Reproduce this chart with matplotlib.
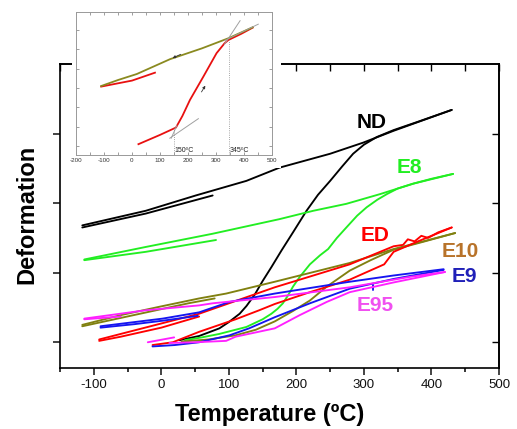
import numpy as np
import matplotlib
matplotlib.use("Agg")
import matplotlib.pyplot as plt
from matplotlib.patches import Rectangle

plt.rcParams['font.family'] = ['Liberation Sans', 'DejaVu Sans']
plt.rcParams['axes.unicode_minus'] = False

# ---------------- main data (x = temperature in C, y = deformation, arbitrary units)
nd_heat_x = [27, 56, 86, 100, 116, 126, 138, 150, 163, 178, 195, 215, 232, 250, 268, 284, 300, 319, 344, 380, 430]
nd_heat_y = [1.03, 1.09, 1.20, 1.29, 1.41, 1.52, 1.68, 1.88, 2.08, 2.32, 2.58, 2.89, 3.12, 3.32, 3.53, 3.71, 3.84, 3.95, 4.05, 4.17, 4.34]
nd_cool_x = [430, 344, 299, 250, 175, 126, 51, -23, -117]
nd_cool_y = [4.34, 4.04, 3.87, 3.71, 3.51, 3.32, 3.11, 2.89, 2.68]
nd_ret_x = [-117, -23, 76]
nd_ret_y = [2.65, 2.85, 3.11]

e8_heat_x = [35, 60, 86, 126, 150, 163, 172, 180, 188, 195, 205, 220, 235, 247, 260, 274, 290, 304, 320, 334, 350, 373, 400, 432]
e8_heat_y = [1.03, 1.07, 1.12, 1.22, 1.33, 1.41, 1.48, 1.56, 1.68, 1.80, 1.94, 2.12, 2.25, 2.34, 2.50, 2.65, 2.82, 2.94, 3.05, 3.13, 3.21, 3.28, 3.35, 3.42]
e8_cool_x = [432, 373, 324, 274, 225, 175, 76, -23, -114]
e8_cool_y = [3.42, 3.28, 3.13, 2.99, 2.89, 2.77, 2.56, 2.37, 2.19]
e8_ret_x = [-114, -23, 81]
e8_ret_y = [2.18, 2.30, 2.47]

e10_heat_x = [30, 70, 110, 140, 168, 195, 220, 245, 279, 310, 344, 390, 435]
e10_heat_y = [1.01, 1.04, 1.10, 1.18, 1.30, 1.45, 1.60, 1.80, 2.03, 2.18, 2.33, 2.45, 2.57]
e10_cool_x = [435, 344, 279, 168, 96, 56, -3, -60, -117]
e10_cool_y = [2.57, 2.34, 2.14, 1.87, 1.70, 1.63, 1.51, 1.39, 1.25]
e10_ret_x = [-117, -60, -3, 40, 79]
e10_ret_y = [1.23, 1.35, 1.47, 1.56, 1.63]

ed_heat_x = [-13, 17, 56, 110, 145, 168, 220, 279, 330, 344, 380, 430]
ed_heat_y = [0.96, 1.00, 1.15, 1.33, 1.46, 1.55, 1.72, 1.90, 2.12, 2.30, 2.45, 2.65]
ed_cool_x = [430, 410, 395, 385, 375, 365, 358, 344, 279, 168, 56, -20, -92]
ed_cool_y = [2.65, 2.58, 2.50, 2.53, 2.45, 2.48, 2.40, 2.38, 2.12, 1.79, 1.41, 1.22, 1.04]
ed_ret_x = [-92, -60, 0, 56]
ed_ret_y = [1.02, 1.08, 1.21, 1.37]

e9_heat_x = [-13, 20, 56, 101, 130, 168, 220, 279, 344, 418]
e9_heat_y = [0.94, 0.96, 1.00, 1.10, 1.20, 1.36, 1.56, 1.77, 1.91, 2.04]
e9_cool_x = [418, 344, 279, 168, 101, 56, 2, -90]
e9_cool_y = [2.05, 1.96, 1.87, 1.70, 1.58, 1.43, 1.34, 1.23]
e9_ret_x = [-90, -40, 2, 54]
e9_ret_y = [1.21, 1.26, 1.31, 1.38]
e9_mark_x = [314, 314]
e9_mark_y = [1.75, 1.83]

e95_heat_x = [12, 50, 96, 110, 168, 205, 245, 279, 344, 420]
e95_heat_y = [0.99, 1.00, 1.02, 1.08, 1.20, 1.39, 1.58, 1.72, 1.86, 2.01]
e95_cool_x = [420, 368, 279, 168, 76, 56, -23, -114]
e95_cool_y = [2.01, 1.94, 1.79, 1.65, 1.56, 1.53, 1.46, 1.34]
e95_ret_x = [-114, -60]
e95_ret_y = [1.33, 1.37]
e95_piece_x = [-20, 19]
e95_piece_y = [1.00, 1.07]

labels = ['ND', 'E8', 'ED', 'E10', 'E9', 'E95']
label_x = [311, 368, 316, 443, 448, 316]
label_y = [4.16, 3.51, 2.53, 2.30, 1.94, 1.53]
label_colors = ['#000000', '#22EE22', '#FF0000', '#B8732A', '#2020B8', '#F050F0']

x_ticks = [-100, 0, 100, 200, 300, 400, 500]
x_tick_labels = ['-100', '0', '100', '200', '300', '400', '500']

# ---------------- inset data
in_olive_x = [-110, -50, 17, 136, 250, 344, 431]
in_olive_y = [3.10, 3.41, 3.72, 4.49, 5.05, 5.57, 6.14]
in_red_heat_x = [23, 100, 157, 180, 207, 255, 302, 330, 344, 390, 431]
in_red_heat_y = [0.09, 0.57, 0.95, 1.55, 2.38, 3.59, 4.80, 5.30, 5.48, 5.80, 6.12]
in_red_low_x = [-110, -50, 0, 82]
in_red_low_y = [3.07, 3.24, 3.38, 3.79]
in_tan1_x = [135, 237]
in_tan1_y = [0.40, 1.41]
in_tan2_x = [140, 160]
in_tan2_y = [0.40, 1.05]
in_tan3_x = [330, 386]
in_tan3_y = [5.25, 6.48]
in_tan4_x = [330, 451]
in_tan4_y = [5.45, 6.30]
in_x_ticks = [-200, -100, 0, 100, 200, 300, 400, 500]

W, H = 517, 429
fig = plt.figure(figsize=(W / 100, H / 100), dpi=100)
ax = fig.add_axes([60 / W, 1 - 368 / H, 439 / W, 304 / H], zorder=0)

lw = 1.35
series = [
    ('#000000', [(nd_heat_x, nd_heat_y), (nd_cool_x, nd_cool_y), (nd_ret_x, nd_ret_y)]),
    ('#22EE22', [(e8_heat_x, e8_heat_y), (e8_cool_x, e8_cool_y), (e8_ret_x, e8_ret_y)]),
    ('#808010', [(e10_heat_x, e10_heat_y), (e10_cool_x, e10_cool_y), (e10_ret_x, e10_ret_y)]),
    ('#FF0000', [(ed_heat_x, ed_heat_y), (ed_cool_x, ed_cool_y), (ed_ret_x, ed_ret_y)]),
    ('#1515F0', [(e9_heat_x, e9_heat_y), (e9_cool_x, e9_cool_y), (e9_ret_x, e9_ret_y), (e9_mark_x, e9_mark_y)]),
    ('#FF20FF', [(e95_heat_x, e95_heat_y), (e95_cool_x, e95_cool_y), (e95_ret_x, e95_ret_y), (e95_piece_x, e95_piece_y)]),
]
for color, parts in series:
    for xs, ys in parts:
        ax.plot(xs, ys, color=color, lw=lw, solid_joinstyle='round', solid_capstyle='round')

for t, x, y, c in zip(labels, label_x, label_y, label_colors):
    ax.text(x, y, t, color=c, fontsize=15, fontweight='bold', ha='center', va='center')

ax.set_xlim(-150, 500)
ax.set_ylim(0.63, 5.0)
ax.set_xticks(x_ticks)
ax.set_xticklabels(x_tick_labels)
ax.set_xticks(np.arange(-150, 501, 100), minor=True)
ax.set_yticks([1, 2, 3, 4])
ax.set_yticklabels([])
ax.tick_params(axis='both', which='major', direction='out', length=5, width=1.1,
               labelsize=9.5, colors='#111111', pad=3)
ax.tick_params(axis='x', which='minor', direction='out', length=3, width=1.1)
for s in ax.spines.values():
    s.set_linewidth(1.2)

sx = ax.secondary_xaxis('top')
sx.set_xticks(np.arange(-150, 501, 50))
sx.tick_params(direction='in', length=5, width=1.0, labeltop=False)
sx.spines['top'].set_linewidth(1.2)
sy = ax.secondary_yaxis('right')
sy.set_yticks([1, 2, 3, 4])
sy.tick_params(direction='in', length=5, width=1.0, labelright=False)
sy.spines['right'].set_linewidth(1.2)

fig.text(270 / W, 1 - 414 / H, 'Temperature (ºC)', fontsize=17, fontweight='bold',
         ha='center', va='center')
fig.text(27 / W, 1 - 214 / H, 'Deformation', fontsize=17, fontweight='bold',
         ha='center', va='center', rotation=90)

# white box behind inset
fig.patches.append(Rectangle((72 / W, 1 - 168 / H), 209 / W, 165 / H, transform=fig.transFigure,
                             facecolor='white', edgecolor='none', zorder=1))

axi = fig.add_axes([76 / W, 1 - 155 / H, 196 / W, 143 / H], zorder=3)
axi.plot(in_red_low_x, in_red_low_y, color='#E81010', lw=1.3)
axi.plot(in_red_heat_x, in_red_heat_y, color='#E81010', lw=1.3)
axi.plot(in_olive_x, in_olive_y, color='#8A8A20', lw=1.3)
for xs, ys in [(in_tan1_x, in_tan1_y), (in_tan2_x, in_tan2_y), (in_tan3_x, in_tan3_y), (in_tan4_x, in_tan4_y)]:
    axi.plot(xs, ys, color='#A0A0A0', lw=0.7)
axi.plot([150, 150], [-0.47, 0.95], color='#888888', lw=0.6, ls=':')
axi.plot([345, 345], [-0.47, 5.5], color='#888888', lw=0.6, ls=':')
axi.text(153, -0.22, '150ºC', fontsize=5, color='#222222', va='center', ha='left')
axi.text(349, -0.22, '345ºC', fontsize=5, color='#222222', va='center', ha='left')
axi.annotate('', xy=(136, 4.49), xytext=(183, 4.80),
             arrowprops=dict(arrowstyle='-|>', color='#333333', lw=0.6, mutation_scale=4))
axi.annotate('', xy=(267, 3.24), xytext=(243, 2.67),
             arrowprops=dict(arrowstyle='-|>', color='#333333', lw=0.6, mutation_scale=4))
axi.set_xlim(-200, 500)
axi.set_ylim(-0.47, 6.93)
axi.set_xticks(in_x_ticks)
axi.set_xticklabels([str(v) for v in in_x_ticks])
axi.set_xticks(np.arange(-150, 500, 100), minor=True)
axi.set_yticks(np.arange(0, 7, 1))
axi.set_yticklabels([])
axi.tick_params(which='both', direction='in', top=True, right=True, length=2.5, width=0.5,
                colors='#777777', labelsize=4.5, labelcolor='#333333', pad=2)
for s in axi.spines.values():
    s.set_color('#999999')
    s.set_linewidth(0.7)

fig.savefig('out.png', dpi=100)
